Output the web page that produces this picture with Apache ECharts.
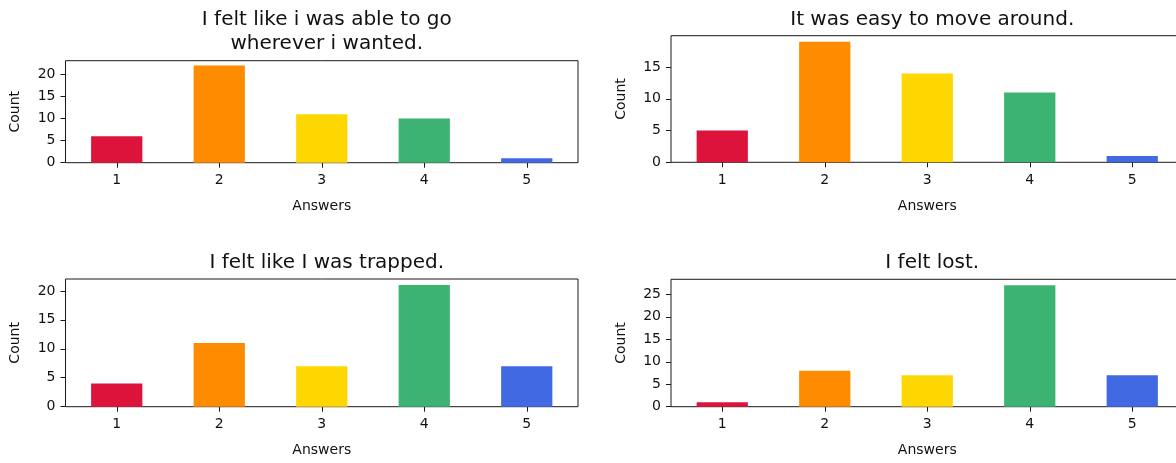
<!DOCTYPE html>
<html>
<head>
<meta charset="utf-8">
<script src="https://cdn.jsdelivr.net/npm/echarts@6/dist/echarts.min.js"></script>
<style>
  html, body { margin: 0; padding: 0; background: #fff; }
  #chart { width: 1176px; height: 463px; }
</style>
</head>
<body>
<div id="chart"></div>
<script>
// Survey answers (Likert 1-5) and the count of respondents per answer
const answers = ['1', '2', '3', '4', '5'];
const barColors = ['#DC143C', '#FF8C00', '#FFD700', '#3CB371', '#4169E1'];

const titles = [
  'I felt like i was able to go\nwherever i wanted.',
  'It was easy to move around.',
  'I felt like I was trapped.',
  'I felt lost.'
];

const ableToGo   = [6, 22, 11, 10, 1];
const easyToMove = [5, 19, 14, 11, 1];
const trapped    = [4, 11, 7, 21, 7];
const lost       = [1, 8, 7, 27, 7];

const countTicks = [0, 5, 10, 15, 20, 25];

// Panel placement (pixels)
const PANEL_W = 512.5;
const panels = [
  { values: ableToGo,   left: 65.5, top: 60.7,  height: 102,   titleTop: 3 },
  { values: easyToMove, left: 671,  top: 35.7,  height: 126.6, titleTop: 2.5 },
  { values: trapped,    left: 65.5, top: 279,   height: 127.7, titleTop: 245.5 },
  { values: lost,       left: 671,  top: 279.3, height: 127.4, titleTop: 245.5 }
];

const FONT = 'DejaVu Sans';
const INK = '#1a1a1a';

const option = {
  backgroundColor: '#fff',
  animation: false,
  title: panels.map((p, i) => ({
    text: titles[i],
    left: p.left + PANEL_W / 2,
    top: p.titleTop,
    textAlign: 'center',
    textStyle: {
      fontFamily: FONT, fontSize: 20, fontWeight: 'normal',
      color: '#111', lineHeight: 24
    }
  })),
  grid: panels.map(p => ({
    left: p.left, top: p.top, width: PANEL_W, height: p.height,
    show: true, borderColor: INK, borderWidth: 1, backgroundColor: 'transparent',
    outerBoundsMode: 'none', containLabel: false
  })),
  xAxis: panels.map((p, i) => ({
    type: 'category', gridIndex: i, data: answers, boundaryGap: true,
    name: 'Answers', nameLocation: 'middle', nameGap: 37,
    nameTextStyle: { fontFamily: FONT, fontSize: 14, color: '#111' },
    axisLine: { show: false },
    axisTick: { show: true, alignWithLabel: true, length: 5, lineStyle: { color: INK, width: 1 } },
    axisLabel: { fontFamily: FONT, fontSize: 14, color: '#111', margin: 11 },
    splitLine: { show: false }
  })),
  yAxis: panels.map((p, i) => {
    const top = Math.max(...p.values) * 1.05;
    const ticks = countTicks.filter(t => t <= top);
    return {
      type: 'value', gridIndex: i, min: 0, max: top,
      name: 'Count', nameLocation: 'middle', nameGap: 43, nameRotate: 90,
      nameTextStyle: { fontFamily: FONT, fontSize: 14, color: '#111' },
      axisLine: { show: false },
      axisTick: { show: true, length: 5, customValues: ticks, lineStyle: { color: INK, width: 1 } },
      axisLabel: { fontFamily: FONT, fontSize: 14, color: '#111', margin: 10, customValues: ticks },
      splitLine: { show: false }
    };
  }),
  series: panels.map((p, i) => ({
    type: 'bar', xAxisIndex: i, yAxisIndex: i, barWidth: '50%',
    data: p.values.map((v, k) => ({ value: v, itemStyle: { color: barColors[k] } }))
  }))
};

const chart = echarts.init(document.getElementById('chart'), null, { renderer: 'canvas' });
chart.setOption(option);
</script>
</body>
</html>
